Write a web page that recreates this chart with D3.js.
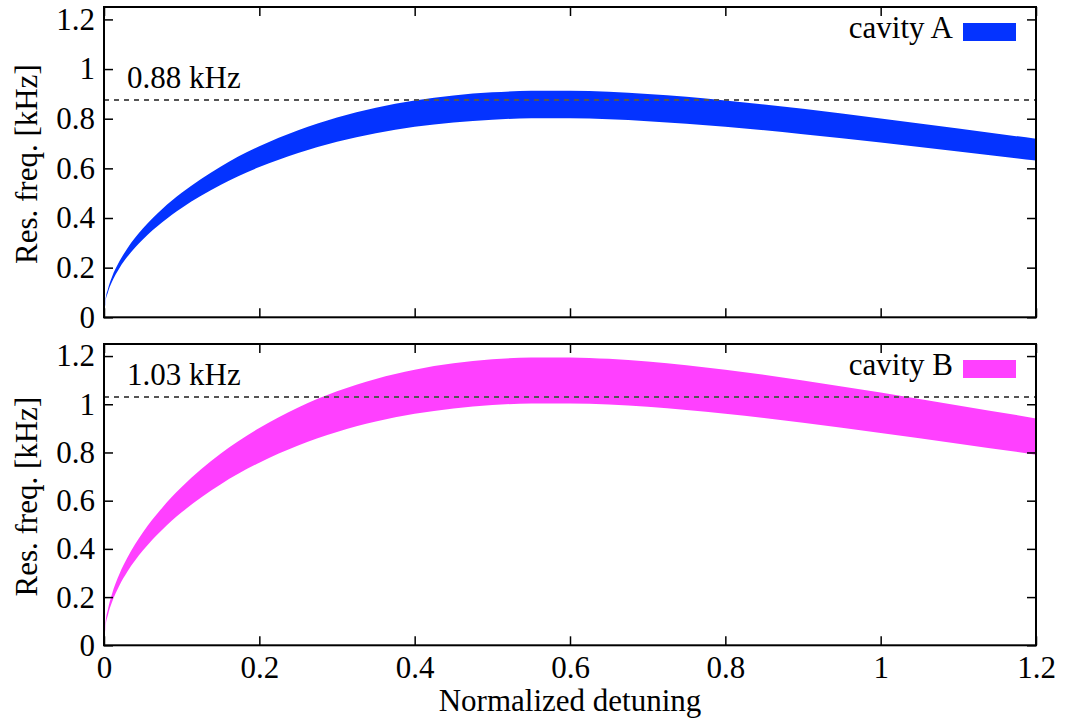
<!DOCTYPE html>
<html>
<head>
<meta charset="utf-8">
<script src="https://cdn.jsdelivr.net/npm/d3@7"></script>
<style>
  html, body { margin: 0; padding: 0; background: #fff; }
  svg { display: block; }
</style>
</head>
<body>
<svg id="chart" width="1066" height="722"></svg>
<script>
// ---- data ----
const detuning = [0, 0.002, 0.005, 0.01, 0.02, 0.03, 0.05, 0.075, 0.1, 0.15, 0.2, 0.25, 0.3, 0.35, 0.4, 0.45, 0.5, 0.55, 0.6, 0.65, 0.7, 0.75, 0.8, 0.9, 1.0, 1.1, 1.2];
const cavityAUpper = [0, 0.0717, 0.1133, 0.1602, 0.2265, 0.2773, 0.3573, 0.4363, 0.5016, 0.6069, 0.6889, 0.7540, 0.8051, 0.8443, 0.8735, 0.8937, 0.9063, 0.9123, 0.9125, 0.9081, 0.8996, 0.8880, 0.8737, 0.8397, 0.8011, 0.7603, 0.7193];
const cavityALower = [0, 0.0630, 0.0995, 0.1408, 0.1990, 0.2436, 0.3139, 0.3833, 0.4406, 0.5331, 0.6052, 0.6623, 0.7072, 0.7417, 0.7673, 0.7851, 0.7961, 0.8014, 0.8016, 0.7977, 0.7902, 0.7800, 0.7675, 0.7376, 0.7037, 0.6679, 0.6318];
const cavityBUpper = [0, 0.0938, 0.1483, 0.2097, 0.2965, 0.3629, 0.4677, 0.5711, 0.6565, 0.7943, 0.9017, 0.9868, 1.0538, 1.1051, 1.1433, 1.1698, 1.1863, 1.1940, 1.1944, 1.1885, 1.1774, 1.1623, 1.1436, 1.0990, 1.0485, 0.9952, 0.9414];
const cavityBLower = [0, 0.0788, 0.1246, 0.1762, 0.2491, 0.3049, 0.3930, 0.4798, 0.5516, 0.6674, 0.7576, 0.8291, 0.8853, 0.9285, 0.9605, 0.9828, 0.9967, 1.0032, 1.0035, 0.9986, 0.9892, 0.9765, 0.9608, 0.9234, 0.8809, 0.8361, 0.7910];
const thresholdA = 0.875;
const thresholdB = 1.03;
const thresholdLabels = ["0.88 kHz", "1.03 kHz"];
const seriesNames = ["cavity A", "cavity B"];
const xTicks = [0, 0.2, 0.4, 0.6, 0.8, 1, 1.2];
const yTicks = [0, 0.2, 0.4, 0.6, 0.8, 1, 1.2];
const xLabel = "Normalized detuning";
const yLabel = "Res. freq. [kHz]";

// ---- layout ----
const FONT = "'Liberation Serif'";
const svg = d3.select("#chart");
const left = 104, right = 1036;
const FS = 31;
const panels = [
  { top: 7, bottom: 317.3, upper: cavityAUpper, lower: cavityALower, color: "#0433ff",
    thr: thresholdA, thrLabel: thresholdLabels[0], name: seriesNames[0], xLabels: false },
  { top: 344, bottom: 645.3, upper: cavityBUpper, lower: cavityBLower, color: "#ff40ff",
    thr: thresholdB, thrLabel: thresholdLabels[1], name: seriesNames[1], xLabels: true }
];

const x = d3.scaleLinear().domain([0, 1.2]).range([left, right]);
const fmt = d => String(+d.toFixed(1));

function txt(sel) {
  return sel.attr("font-family", FONT).attr("font-size", FS).attr("fill", "#000");
}

panels.forEach((p, i) => {
  const y = d3.scaleLinear().domain([0, 1.25]).range([p.bottom, p.top]);
  const g = svg.append("g");
  const clipId = "clip" + i;
  svg.append("clipPath").attr("id", clipId).append("rect")
    .attr("x", left).attr("y", p.top).attr("width", right - left).attr("height", p.bottom - p.top);

  const rows = detuning.map((d, k) => ({ x: d, hi: p.upper[k], lo: p.lower[k] }));
  const area = d3.area().x(d => x(d.x)).y0(d => y(d.lo)).y1(d => y(d.hi)).curve(d3.curveMonotoneX);
  g.append("path").datum(rows).attr("d", area).attr("fill", p.color).attr("clip-path", `url(#${clipId})`);

  // threshold dashed line
  g.append("line").attr("x1", left).attr("x2", right).attr("y1", y(p.thr)).attr("y2", y(p.thr))
    .attr("stroke", "#555").attr("stroke-width", 2).attr("stroke-dasharray", "5,5");
  txt(g.append("text").attr("x", 127).attr("y", y(p.thr) - 12)).text(p.thrLabel);

  // axes (inward ticks, mirrored)
  const axL = g.append("g").attr("transform", `translate(${left},0)`)
    .call(d3.axisLeft(y).tickValues(yTicks).tickFormat(fmt).tickSizeInner(-9).tickSizeOuter(0).tickPadding(9));
  const axR = g.append("g").attr("transform", `translate(${right},0)`)
    .call(d3.axisRight(y).tickValues(yTicks).tickFormat("").tickSizeInner(-9).tickSizeOuter(0));
  const axB = g.append("g").attr("transform", `translate(0,${p.bottom})`)
    .call(d3.axisBottom(x).tickValues(xTicks).tickFormat(p.xLabels ? fmt : "").tickSizeInner(-9).tickSizeOuter(0).tickPadding(11));
  const axT = g.append("g").attr("transform", `translate(0,${p.top})`)
    .call(d3.axisTop(x).tickValues(xTicks).tickFormat("").tickSizeInner(-9).tickSizeOuter(0));
  [axL, axR, axB, axT].forEach(a => {
    a.select(".domain").remove();
    a.attr("font-family", FONT).attr("font-size", FS);
    a.selectAll("line").attr("stroke", "#000").attr("stroke-width", 1.5);
    txt(a.selectAll("text"));
  });
  // frame
  g.append("rect").attr("x", left).attr("y", p.top).attr("width", right - left).attr("height", p.bottom - p.top)
    .attr("fill", "none").attr("stroke", "#000").attr("stroke-width", 2);

  // y label
  const cy = (p.top + p.bottom) / 2 + 2;
  txt(g.append("text").attr("transform", `translate(37,${cy}) rotate(-90)`)
    .attr("text-anchor", "middle")).text(yLabel);

  // legend
  txt(g.append("text").attr("x", 953).attr("y", p.top + 31).attr("text-anchor", "end")).text(p.name);
  g.append("rect").attr("x", 963).attr("y", p.top + 16).attr("width", 53).attr("height", 18)
    .attr("fill", p.color);
});

txt(svg.append("text").attr("x", (left + right) / 2).attr("y", 711).attr("text-anchor", "middle")).text(xLabel);
</script>
</body>
</html>
